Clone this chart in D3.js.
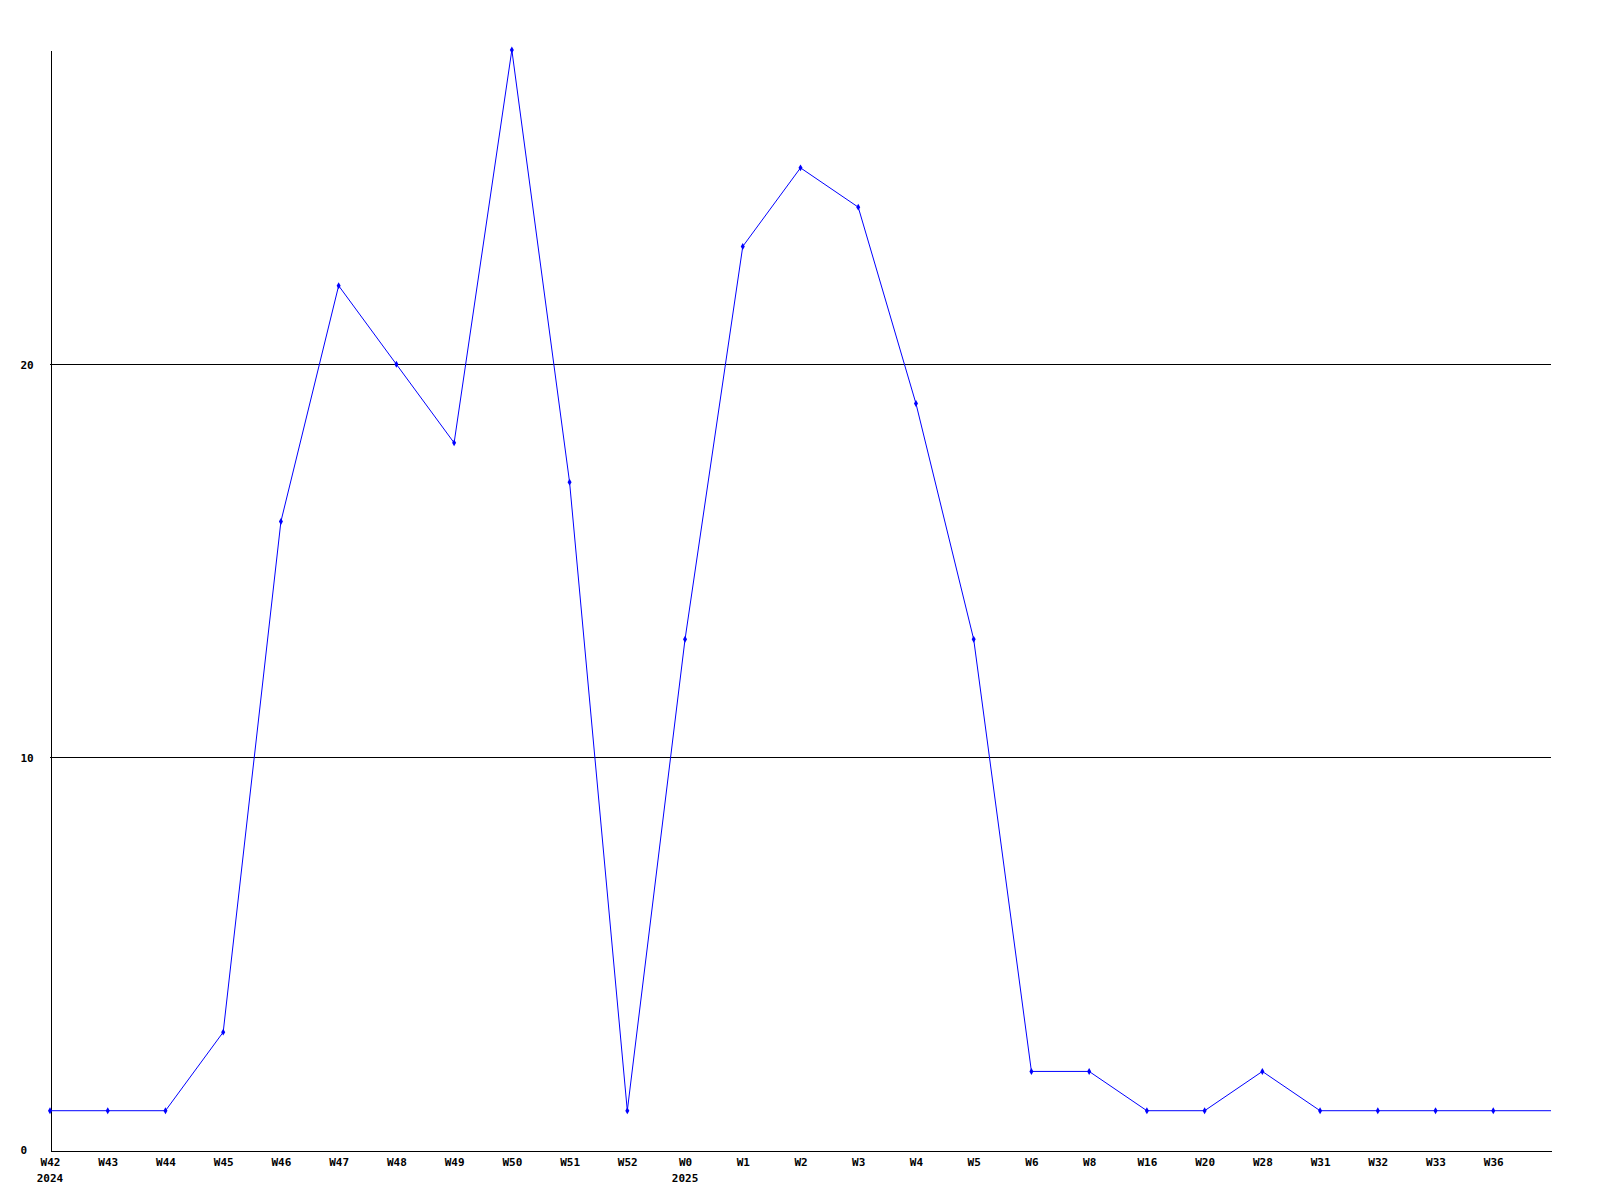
<!DOCTYPE html>
<html>
<head>
<meta charset="utf-8">
<script src="https://cdn.jsdelivr.net/npm/d3@7"></script>
<style>
  body { margin: 0; background: #fff; }
  svg text { font-family: "DejaVu Sans Mono", "Liberation Mono", monospace; font-size: 11px; font-weight: bold; fill: #000; }
</style>
</head>
<body>
<svg id="chart" width="1600" height="1200"></svg>
<script>
// weeks along the x axis (last slot has no label, the line just runs to the edge)
var weeks = ["W42","W43","W44","W45","W46","W47","W48","W49","W50","W51","W52",
             "W0","W1","W2","W3","W4","W5","W6","W8","W16","W20","W28","W31","W32","W33","W36",""];
var counts = [1,1,1,3,16,22,20,18,28,17,1,13,23,25,24,19,13,2,2,1,1,2,1,1,1,1,1];
var yearLabels = [{week: "W42", year: "2024"}, {week: "W0", year: "2025"}];
var yTicks = [0, 10, 20];
var gridValues = [10, 20];

var svg = d3.select("#chart");
var plotLeft = 50, plotRight = 1551, plotTop = 50, plotBottom = 1150;

var x = d3.scalePoint().domain(d3.range(weeks.length)).range([plotLeft, plotRight]);
var y = d3.scaleLinear().domain([0, 28]).range([plotBottom, plotTop]);

// grid lines
svg.append("g")
  .selectAll("line")
  .data(gridValues)
  .enter().append("line")
  .attr("x1", plotLeft).attr("x2", plotRight)
  .attr("y1", function(d) { return Math.round(y(d)) + 0.5; })
  .attr("y2", function(d) { return Math.round(y(d)) + 0.5; })
  .attr("stroke", "#000")
  .attr("shape-rendering", "crispEdges");

// x axis
var xAxis = svg.append("g")
  .attr("transform", "translate(0," + (plotBottom + 0.5) + ")")
  .call(d3.axisBottom(x).tickSize(0).tickSizeOuter(0).tickPadding(8)
    .tickFormat(function(i) { return weeks[i]; }));
xAxis.select(".domain").attr("stroke", "#000").attr("shape-rendering", "crispEdges");
xAxis.selectAll("text").attr("dy", "0.71em");

// year labels under the first week of each year
svg.append("g")
  .selectAll("text")
  .data(yearLabels)
  .enter().append("text")
  .attr("x", function(d) { return x(weeks.indexOf(d.week)); })
  .attr("y", plotBottom + 32)
  .attr("text-anchor", "middle")
  .text(function(d) { return d.year; });

// y axis
var yAxis = svg.append("g")
  .attr("transform", "translate(" + (plotLeft + 0.5) + ",0)")
  .call(d3.axisLeft(y).tickValues(yTicks).tickSize(0).tickSizeOuter(0));
yAxis.select(".domain").attr("stroke", "#000").attr("shape-rendering", "crispEdges");
yAxis.selectAll("text")
  .attr("text-anchor", "start")
  .attr("x", -30)
  .attr("dy", "0.35em");

// the series line
var line = d3.line()
  .x(function(d, i) { return x(i); })
  .y(function(d) { return y(d); });

svg.append("path")
  .datum(counts)
  .attr("d", line)
  .attr("fill", "none")
  .attr("stroke", "#0000ff")
  .attr("stroke-width", 1);

// markers on every labelled week
svg.append("g")
  .selectAll("path")
  .data(counts.filter(function(d, i) { return weeks[i] !== ""; }))
  .enter().append("path")
  .attr("transform", function(d, i) { return "translate(" + x(i) + "," + y(d) + ")"; })
  .attr("d", d3.symbol().type(d3.symbolDiamond).size(14))
  .attr("fill", "#0000ff");
</script>
</body>
</html>
